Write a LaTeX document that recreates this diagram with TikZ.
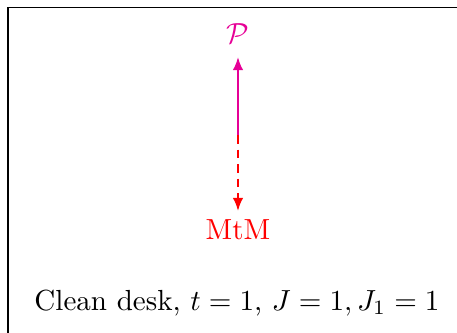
\documentclass[tikz,border=0pt]{standalone}
\usetikzlibrary{arrows.meta}
\definecolor{pinkm}{RGB}{230,0,150}
\begin{document}
\begin{tikzpicture}[x=0.344pt,y=-0.344pt,
  lbl/.style={inner sep=0pt},
  conn/.style={line width=0.7pt,-{Latex[length=4.5pt,width=3.6pt]}}]
\useasboundingbox (0,0) rectangle (457,333);
\draw[line width=0.5pt] (8,340) -- (8,7.5) -- (470,7.5);
\node[lbl,text=pinkm] (P) at (238,34) {$\mathcal{P}$};
\node[lbl,text=red] (M) at (238,230) {MtM};
\coordinate (mid) at (238,135);
\coordinate (Ptip) at (238,57);
\coordinate (Mtip) at (238,211);
\draw[conn,pinkm] (mid) -- (Ptip);
\draw[conn,red,dash pattern=on 3pt off 2pt] (mid) -- (Mtip);
\node[lbl] (cap) at (237,303) {Clean desk, $t=1$, $J=1, J_1=1$};
\end{tikzpicture}
\end{document}
